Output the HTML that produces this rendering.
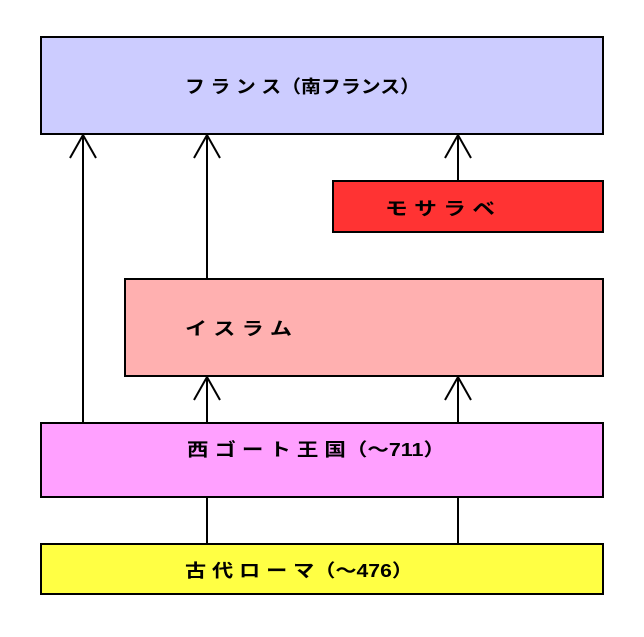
<!DOCTYPE html>
<html><head><meta charset="utf-8"><style>body{margin:0;background:#fff}</style></head><body>
<svg width="644" height="637" xmlns="http://www.w3.org/2000/svg" style="display:block">
<g stroke="#000" stroke-width="2">
<rect x="41" y="37" width="562" height="97" fill="#ccccff"/>
<rect x="333" y="181" width="270" height="51" fill="#ff3333"/>
<rect x="125" y="279" width="478" height="97" fill="#ffb0b0"/>
<rect x="41" y="423" width="562" height="74" fill="#ffa0ff"/>
<rect x="41" y="544" width="562" height="50" fill="#ffff44"/>
<g fill="none">
<path d="M83 423V135M70 158L83 135L96 158"/>
<path d="M207 279V135M194 158L207 135L220 158"/>
<path d="M458 181V135M445 158L458 135L471 158"/>
<path d="M207 423V377M194 400L207 377L220 400"/>
<path d="M458 423V377M445 400L458 377L471 400"/>
<path d="M207 544V497M458 544V497"/>
</g>
</g>
<g font-family="'Liberation Sans','Noto Sans CJK JP',sans-serif" font-weight="bold" font-size="18" fill="#000">
<text x="185" y="93" textLength="235" lengthAdjust="spacingAndGlyphs">フ ラ ン ス（南フランス）</text>
<text x="385" y="215" textLength="110" lengthAdjust="spacingAndGlyphs">モ サ ラ ベ</text>
<text x="185" y="335" textLength="107" lengthAdjust="spacingAndGlyphs">イ ス ラ ム</text>
<text x="187" y="456" textLength="258" lengthAdjust="spacingAndGlyphs">西 ゴ ー ト 王 国（～711）</text>
<text x="185" y="577" textLength="228" lengthAdjust="spacingAndGlyphs">古 代 ロ ー マ（～476）</text>
</g>
</svg>
</body></html>
